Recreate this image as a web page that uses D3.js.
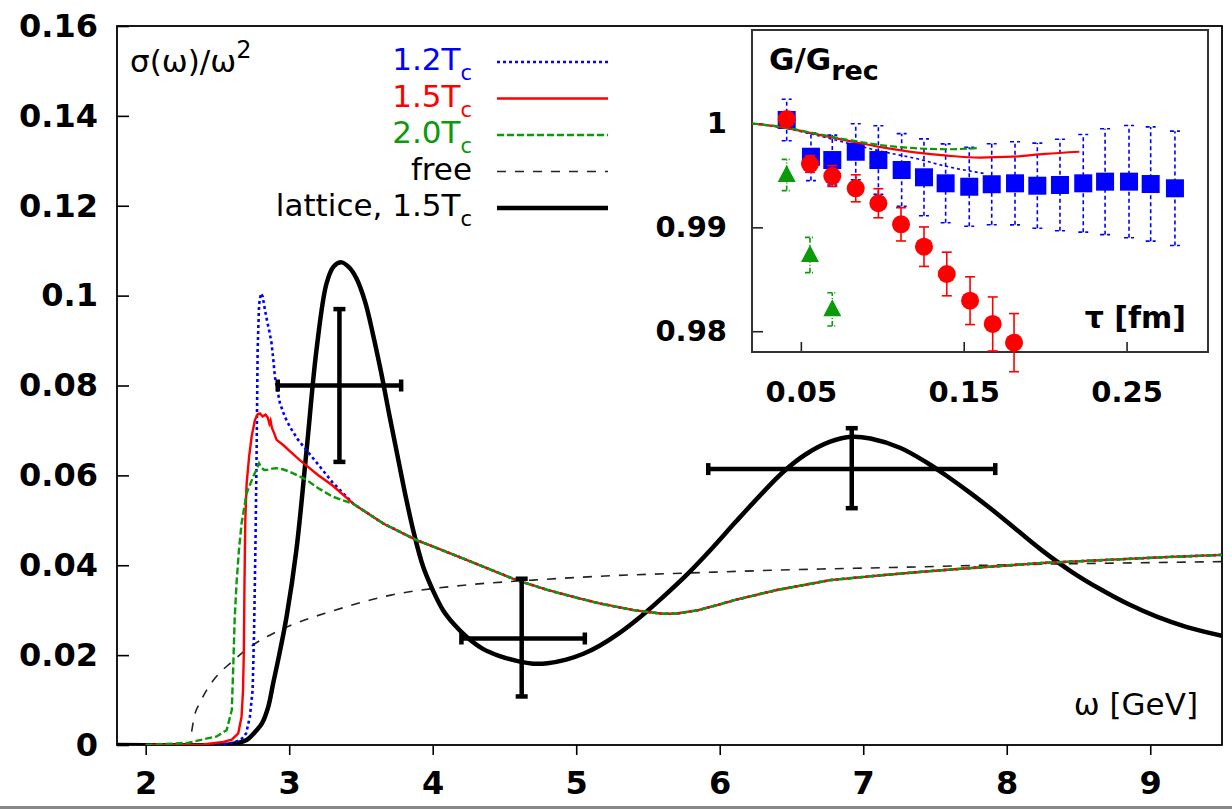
<!DOCTYPE html>
<html><head><meta charset="utf-8">
<script src="https://cdn.jsdelivr.net/npm/d3@7"></script>
<style>
body{margin:0;background:#fff}
svg{display:block}
text{font-family:"DejaVu Sans",sans-serif}
</style>
</head><body>
<svg id="c" width="1232" height="809"></svg>
<script>
// ---------------- main panel data ----------------
const xTicks = [2,3,4,5,6,7,8,9];
const xTickLabels = ["2","3","4","5","6","7","8","9"];
const yTicks = [0,0.02,0.04,0.06,0.08,0.1,0.12,0.14,0.16];
const yTickLabels = ["0","0.02","0.04","0.06","0.08","0.1","0.12","0.14","0.16"];

const blueOmega = [2.0,2.4,2.55,2.62,2.67,2.70,2.726,2.745,2.755,2.765,2.773,2.78,2.79,2.803,2.815,2.83,2.845,2.862,2.877,2.89,2.90,2.935,2.97,3.005,3.06,3.12,3.2,3.3];
const blueSigma = [0,0,0.0002,0.0006,0.0014,0.0026,0.0063,0.0122,0.025,0.045,0.0656,0.088,0.098,0.1005,0.0998,0.097,0.0945,0.092,0.0894,0.0855,0.082,0.0761,0.073,0.0708,0.068,0.0656,0.0625,0.0585];

const redOmega = [2.0,2.4,2.54,2.6,2.645,2.668,2.678,2.684,2.688,2.694,2.703,2.72,2.738,2.761,2.78,2.796,2.815,2.835,2.85,2.862,2.87,2.88,2.895,2.912,2.96,3.0,3.074,3.2,3.3];
const redSigma = [0,0.0001,0.0007,0.0012,0.0026,0.0063,0.012,0.021,0.035,0.05,0.058,0.064,0.0686,0.0723,0.0736,0.0738,0.0731,0.0735,0.0729,0.0715,0.0722,0.0705,0.0694,0.0679,0.0667,0.0655,0.0634,0.0601,0.0578];

const greenOmega = [2.0,2.3,2.378,2.494,2.564,2.60,2.61,2.62,2.633,2.65,2.668,2.703,2.749,2.775,2.79,2.805,2.825,2.842,2.88,2.912,2.96,3.005,3.121,3.2,3.3];
const greenSigma = [0,0.0005,0.0011,0.0019,0.0033,0.0078,0.0174,0.028,0.036,0.0435,0.0493,0.056,0.0597,0.0615,0.0627,0.0618,0.0612,0.0612,0.0615,0.0616,0.0613,0.0608,0.059,0.0572,0.0553];

// common high-energy tail shared by the three temperatures
const tailOmega = [3.45,3.655,3.887,4.0,4.235,4.583,4.8,5.0,5.163,5.4,5.6,5.69,5.85,6.0,6.11,6.4,6.77,7.1,7.43,7.8,8.25,8.7,9.1,9.5];
const tailSigma = [0.0536,0.0493,0.0456,0.0442,0.0412,0.0367,0.0345,0.0328,0.0315,0.0300,0.0292,0.0292,0.0300,0.0313,0.0323,0.0345,0.0367,0.0377,0.0386,0.0395,0.0405,0.0412,0.0418,0.0423];

const freeOmega = [2.32,2.34,2.38,2.43,2.5,2.6,2.7,2.85,3.0,3.3,3.7,4.2,4.7,5.2,5.8,6.5,7.2,8.0,8.8,9.5];
const freeSigma = [0.003,0.0065,0.0095,0.0125,0.0155,0.0185,0.0212,0.0242,0.0265,0.0298,0.0333,0.0355,0.0367,0.0376,0.0383,0.0390,0.0395,0.0401,0.0405,0.0408];

const latOmega = [1.8,2.5,2.6,2.703,2.773,2.81,2.854,2.888,2.93,2.982,3.05,3.121,3.19,3.26,3.31,3.365,3.42,3.469,3.53,3.585,3.64,3.70,3.76,3.817,3.87,3.933,4.0,4.072,4.15,4.235,4.35,4.467,4.6,4.70,4.8,4.93,5.05,5.163,5.3,5.45,5.6,5.78,5.95,6.11,6.28,6.44,6.6,6.77,6.92,7.05,7.26,7.45,7.59,7.75,7.92,8.08,8.25,8.45,8.65,8.85,9.05,9.25,9.5];
const latSigma = [0,0,0.0002,0.0011,0.0033,0.0048,0.0085,0.0137,0.020,0.0286,0.0434,0.0656,0.0879,0.1027,0.1065,0.1074,0.1062,0.1038,0.0985,0.0912,0.083,0.0731,0.0635,0.0545,0.047,0.0397,0.0345,0.030,0.0268,0.0241,0.0214,0.0198,0.0186,0.0181,0.0182,0.0190,0.0203,0.0221,0.0249,0.0286,0.0328,0.0382,0.0439,0.0496,0.0555,0.0607,0.0647,0.0675,0.0686,0.0682,0.0661,0.0627,0.0597,0.0560,0.0518,0.0476,0.0432,0.0386,0.0347,0.0313,0.0285,0.0263,0.0243];

// lattice points (1.5 Tc) with horizontal and vertical error bars
const latX   = [3.35, 4.62, 6.92];
const latY   = [0.080, 0.0237, 0.0614];
const latXlo = [2.92, 4.20, 5.92];
const latXhi = [3.78, 5.06, 7.92];
const latYlo = [0.063, 0.0108, 0.0527];
const latYhi = [0.097, 0.037, 0.0705];

// ---------------- inset data ----------------
const insetXTicks = [0.05,0.15,0.25];
const insetXTickLabels = ["0.05","0.15","0.25"];
const insetYTicks = [0.98,0.99,1];
const insetYTickLabels = ["0.98","0.99","1"];

const blueTau = [0.0413,0.0562,0.0693,0.0837,0.0976,0.1119,0.1256,0.1389,0.1534,0.1672,0.1815,0.1952,0.2091,0.2234,0.2368,0.2515,0.2648,0.2797];
const blueG   = [1.00034,0.9968,0.99648,0.99728,0.99648,0.99552,0.99482,0.99424,0.99391,0.99415,0.99424,0.99401,0.99408,0.99424,0.9944,0.9944,0.99417,0.99376];
const blueErr = [0.0020,0.0023,0.0024,0.0027,0.0033,0.0035,0.0037,0.0038,0.0038,0.0039,0.0040,0.0041,0.0044,0.0047,0.0051,0.0054,0.0055,0.0055];

const redTau = [0.0413,0.0556,0.0693,0.0837,0.0976,0.1115,0.1256,0.1396,0.1539,0.1678,0.1809];
const redG   = [1.00043,0.9961,0.99494,0.99376,0.99232,0.99029,0.98814,0.98551,0.98294,0.9807,0.9789];
const redErr = [0.0006,0.0008,0.0010,0.0013,0.0014,0.0016,0.0019,0.0021,0.0023,0.0026,0.0028];

const greenTau = [0.0413,0.0556,0.0693];
const greenG   = [0.99504,0.98734,0.98211];
const greenErr = [0.0015,0.0017,0.0016];

const redCurveTau = [0.02,0.04,0.06,0.08,0.10,0.12,0.14,0.16,0.18,0.20,0.221];
const redCurveG   = [1.0000,0.99960,0.99895,0.99830,0.99770,0.99722,0.99690,0.99672,0.99680,0.99708,0.99728];
const greenCurveTau = [0.02,0.04,0.06,0.08,0.10,0.12,0.14,0.158];
const greenCurveG   = [1.0000,0.99962,0.99900,0.99840,0.99790,0.99762,0.99752,0.99762];
const blueCurveTau = [0.02,0.04,0.06,0.08,0.10,0.12,0.14,0.164];
const blueCurveG   = [1.0000,0.99955,0.99885,0.99805,0.99730,0.99665,0.99585,0.99515];

// ---------------- drawing ----------------
const BLUE = "#0000ff", RED = "#ff0000", GREEN = "#0a9a0a";
const svg = d3.select("#c");
svg.append("rect").attr("width",1232).attr("height",809).attr("fill","#fff");

const x = d3.scaleLinear().domain([1.8,9.5]).range([117,1222]);
const y = d3.scaleLinear().domain([0,0.16]).range([745,26]);

svg.append("clipPath").attr("id","mainclip").append("rect")
  .attr("x",117).attr("y",26).attr("width",1105).attr("height",719);

const yAx = svg.append("g").attr("transform","translate(117,0)")
  .call(d3.axisLeft(y).tickValues(yTicks).tickSizeInner(-12).tickSizeOuter(0).tickPadding(19)
    .tickFormat((d,i)=>yTickLabels[i]));
const xAx = svg.append("g").attr("transform","translate(0,745)")
  .call(d3.axisBottom(x).tickValues(xTicks).tickSizeInner(10).tickSizeOuter(0).tickPadding(16)
    .tickFormat((d,i)=>xTickLabels[i]));
[yAx,xAx].forEach(g=>{
  g.select(".domain").remove();
  g.selectAll(".tick line").attr("stroke","#000").attr("stroke-width",1.6);
  g.selectAll(".tick text").attr("fill","#000").style("font-family","DejaVu Sans")
    .style("font-size","32px").style("font-weight","bold");
});

svg.append("rect").attr("x",117).attr("y",26).attr("width",1105).attr("height",719)
  .attr("fill","none").attr("stroke","#000").attr("stroke-width",1.8);

const lineLin = d3.line().x(d=>x(d[0])).y(d=>y(d[1]));
const lineSmooth = d3.line().x(d=>x(d[0])).y(d=>y(d[1])).curve(d3.curveMonotoneX);
const lineCR = d3.line().x(d=>x(d[0])).y(d=>y(d[1])).curve(d3.curveCatmullRom.alpha(0.5));
const plot = svg.append("g").attr("clip-path","url(#mainclip)");

const tail = d3.zip(tailOmega, tailSigma);
plot.append("path").datum(d3.zip(freeOmega,freeSigma)).attr("d",lineSmooth)
  .attr("fill","none").attr("stroke","#222").attr("stroke-width",1.6).attr("stroke-dasharray","9,9");
plot.append("path").datum(d3.zip(latOmega,latSigma)).attr("d",lineCR)
  .attr("fill","none").attr("stroke","#000").attr("stroke-width",4.5).attr("stroke-linejoin","round");
plot.append("path").datum(d3.zip(blueOmega,blueSigma).concat(tail)).attr("d",lineLin)
  .attr("fill","none").attr("stroke",BLUE).attr("stroke-width",2.6).attr("stroke-dasharray","3,3");
plot.append("path").datum(d3.zip(redOmega,redSigma).concat(tail)).attr("d",lineLin)
  .attr("fill","none").attr("stroke",RED).attr("stroke-width",2.4);
plot.append("path").datum(d3.zip(greenOmega,greenSigma).concat(tail)).attr("d",lineLin)
  .attr("fill","none").attr("stroke",GREEN).attr("stroke-width",2.4).attr("stroke-dasharray","7,3");

const eb = svg.append("g").attr("stroke","#000").attr("stroke-width",4.5);
latX.forEach((v,i)=>{
  eb.append("line").attr("x1",x(latXlo[i])).attr("x2",x(latXhi[i])).attr("y1",y(latY[i])).attr("y2",y(latY[i]));
  eb.append("line").attr("x1",x(v)).attr("x2",x(v)).attr("y1",y(latYlo[i])).attr("y2",y(latYhi[i]));
  [latXlo[i],latXhi[i]].forEach(xx=>eb.append("line").attr("x1",x(xx)).attr("x2",x(xx))
     .attr("y1",y(latY[i])-6).attr("y2",y(latY[i])+6));
  [latYlo[i],latYhi[i]].forEach(yy=>eb.append("line").attr("x1",x(v)-6).attr("x2",x(v)+6)
     .attr("y1",y(yy)).attr("y2",y(yy)));
});

const t1 = svg.append("text").attr("x",130).attr("y",72).style("font-size","31px").attr("fill","#000");
t1.append("tspan").text("σ(ω)/ω");
t1.append("tspan").attr("dy",-14).style("font-size","24px").text("2");
svg.append("text").attr("x",1198).attr("y",715).attr("text-anchor","end")
  .style("font-size","31px").text("ω [GeV]");

// legend
const legNames = ["1.2T","1.5T","2.0T","free","lattice, 1.5T"];
const legSubs  = ["c","c","c","","c"];
const legColors = [BLUE,RED,GREEN,"#000","#000"];
const legDash = ["3,3",null,"7,3","9,9",null];
const legWidth = [2.6,2.4,2.4,1.6,4.5];
const legStroke = [BLUE,RED,GREEN,"#222","#000"];
const legY = d3.scaleLinear().domain([0,4]).range([62,208]);
legNames.forEach((n,i)=>{
  const yy = legY(i);
  const t = svg.append("text").attr("x",472).attr("y",yy+8).attr("text-anchor","end")
    .attr("fill",legColors[i]).style("font-size","31px");
  t.append("tspan").text(n);
  if(legSubs[i]) t.append("tspan").attr("dy",10).style("font-size","21px").text(legSubs[i]);
  svg.append("line").attr("x1",497).attr("x2",608).attr("y1",yy).attr("y2",yy)
    .attr("stroke",legStroke[i]).attr("stroke-width",legWidth[i])
    .attr("stroke-dasharray",legDash[i]);
});

// ---------------- inset ----------------
const xi = d3.scaleLinear().domain([0.02,0.30]).range([752,1208]);
const yi = d3.scaleLinear().domain([0.978,1.009]).range([352,30]);
svg.append("rect").attr("x",752).attr("y",30).attr("width",456).attr("height",322).attr("fill","#fff");

const yiAx = svg.append("g").attr("transform","translate(752,0)")
  .call(d3.axisLeft(yi).tickValues(insetYTicks).tickSizeInner(-11).tickSizeOuter(0).tickPadding(25)
    .tickFormat((d,i)=>insetYTickLabels[i]));
const xiAx = svg.append("g").attr("transform","translate(0,352)")
  .call(d3.axisBottom(xi).tickValues(insetXTicks).tickSizeInner(-10).tickSizeOuter(0).tickPadding(29)
    .tickFormat((d,i)=>insetXTickLabels[i]));
[yiAx,xiAx].forEach(g=>{
  g.select(".domain").remove();
  g.selectAll(".tick line").attr("stroke","#222").attr("stroke-width",1.6);
  g.selectAll(".tick text").attr("fill","#000").style("font-family","DejaVu Sans")
    .style("font-size","29px").style("font-weight","bold");
});
svg.append("rect").attr("x",752).attr("y",30).attr("width",456).attr("height",322)
  .attr("fill","none").attr("stroke","#333").attr("stroke-width",2);

const gi = svg.append("text").attr("x",769).attr("y",70).style("font-size","31px").style("font-weight","bold");
gi.append("tspan").text("G/G");
gi.append("tspan").attr("dy",10).style("font-size","27px").text("rec");
svg.append("text").attr("x",1186).attr("y",328).attr("text-anchor","end")
  .style("font-size","30px").style("font-weight","bold").text("τ [fm]");

const ins = svg.append("g");
function errBars(taus, gs, errs, color, dash){
  const g = ins.append("g").attr("stroke",color).attr("stroke-width",1.6).attr("stroke-dasharray",dash);
  taus.forEach((t,i)=>{
    const X = xi(t), y1 = yi(gs[i]-errs[i]), y2 = yi(gs[i]+errs[i]);
    g.append("line").attr("x1",X).attr("x2",X).attr("y1",y1).attr("y2",y2);
    g.append("line").attr("x1",X-5).attr("x2",X+5).attr("y1",y1).attr("y2",y1);
    g.append("line").attr("x1",X-5).attr("x2",X+5).attr("y1",y2).attr("y2",y2);
  });
}
errBars(blueTau,blueG,blueErr,BLUE,"4,3");
ins.append("g").selectAll("rect").data(d3.zip(blueTau,blueG)).join("rect")
  .attr("x",d=>xi(d[0])-9).attr("y",d=>yi(d[1])-9).attr("width",18).attr("height",18).attr("fill",BLUE);
const lineI = d3.line().x(d=>xi(d[0])).y(d=>yi(d[1])).curve(d3.curveMonotoneX);
ins.append("path").datum(d3.zip(blueCurveTau,blueCurveG)).attr("d",lineI).attr("fill","none")
  .attr("stroke",BLUE).attr("stroke-width",1.6).attr("stroke-dasharray","3,3");
ins.append("path").datum(d3.zip(redCurveTau,redCurveG)).attr("d",lineI).attr("fill","none")
  .attr("stroke",RED).attr("stroke-width",2.2);
ins.append("path").datum(d3.zip(greenCurveTau,greenCurveG)).attr("d",lineI).attr("fill","none")
  .attr("stroke",GREEN).attr("stroke-width",2.2).attr("stroke-dasharray","7,3");
errBars(redTau,redG,redErr,RED,null);
ins.append("g").selectAll("circle").data(d3.zip(redTau,redG)).join("circle")
  .attr("cx",d=>xi(d[0])).attr("cy",d=>yi(d[1])).attr("r",9).attr("fill",RED);
errBars(greenTau,greenG,greenErr,GREEN,"5,2,1,2");
ins.append("g").selectAll("path").data(d3.zip(greenTau,greenG)).join("path")
  .attr("d",d=>{const X=xi(d[0]),Y=yi(d[1]);return `M${X},${Y-10}L${X+9},${Y+7}L${X-9},${Y+7}Z`;})
  .attr("fill",GREEN);

svg.append("rect").attr("x",0).attr("y",806).attr("width",1232).attr("height",3).attr("fill","#888");
</script>
</body></html>
